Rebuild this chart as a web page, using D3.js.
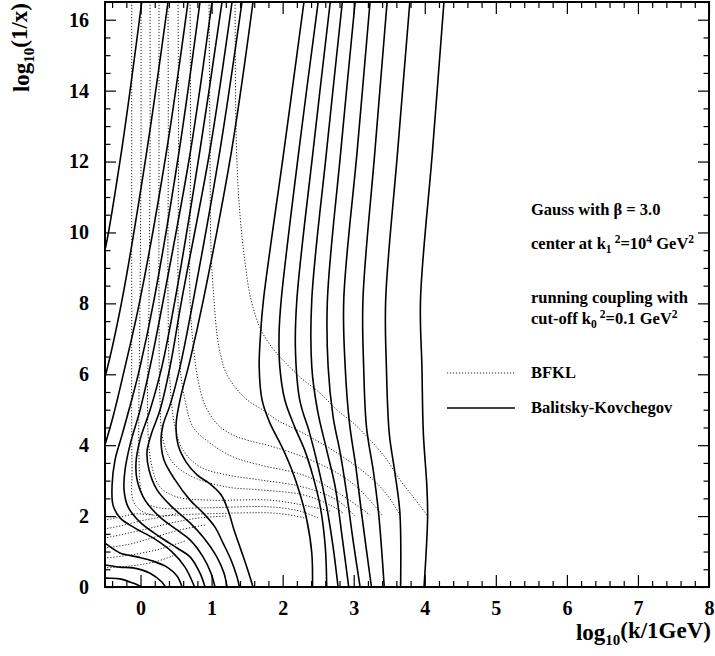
<!DOCTYPE html>
<html>
<head>
<meta charset="utf-8">
<script src="https://cdn.jsdelivr.net/npm/d3@7"></script>
<style>
  body { margin: 0; background: #fff; }
  svg { display: block; }
  text { font-family: "Liberation Serif", "Times New Roman", serif; font-weight: bold; fill: #000; }
</style>
</head>
<body>
<svg id="chart" width="715" height="656"></svg>
<script>
// ---- axes ----
const xDomain = [-0.5, 8];
const yDomain = [0, 16.5];
const xMajorTicks = [0, 1, 2, 3, 4, 5, 6, 7, 8];
const yMajorTicks = [0, 2, 4, 6, 8, 10, 12, 14, 16];

// ---- Balitsky-Kovchegov contours: [log10 k, log10 1/x] ----
// right branches (large k side of the Gaussian)
const bkRight1 = [[2.30,16.5],[2.02,12.33],[1.73,8.10],[1.69,7.17],[1.67,6.21],[1.71,5.28],[1.82,4.63],[1.99,3.95],[2.13,3.30],[2.24,2.65],[2.34,1.89],[2.41,0.96],[2.42,0]];
const bkRight2 = [[2.50,16.5],[2.23,12.33],[1.98,8.10],[1.95,7.17],[1.96,6.21],[2.03,5.28],[2.17,4.51],[2.31,3.86],[2.43,3.10],[2.53,2.26],[2.60,1.13],[2.62,0]];
const bkRight3 = [[2.67,16.5],[2.43,12.33],[2.20,8.10],[2.18,6.69],[2.24,5.28],[2.38,4.34],[2.50,3.39],[2.62,2.26],[2.71,1.13],[2.78,0]];
const bkRight4 = [[2.84,16.5],[2.62,12.33],[2.41,8.10],[2.41,6.21],[2.49,4.99],[2.62,3.86],[2.74,2.82],[2.83,1.52],[2.93,0]];
const bkRight5 = [[3.02,16.5],[2.82,12.33],[2.63,8.10],[2.64,6.21],[2.71,4.80],[2.81,3.78],[2.90,2.65],[2.99,1.33],[3.09,0]];
const bkRight6 = [[3.23,16.5],[3.05,12.33],[2.86,8.10],[2.88,6.21],[2.94,4.63],[3.03,3.39],[3.11,2.09],[3.25,0]];
const bkRight7 = [[3.47,16.5],[3.30,12.33],[3.13,8.10],[3.14,6.21],[3.18,4.51],[3.28,3.22],[3.35,2.09],[3.43,0]];
const bkRight8 = [[3.79,16.5],[3.62,12.33],[3.45,8.10],[3.46,6.21],[3.50,4.34],[3.58,3.22],[3.65,2.09],[3.66,0]];
const bkRight9 = [[4.27,16.5],[4.11,12.33],[3.94,8.10],[3.96,6.21],[3.98,4.34],[4.03,2.82],[4.04,1.97],[3.99,0]];

// left branches (small k side); the outer ones leave the frame and come back
const bkLeft1Top = [[0.017,16.5],[-0.265,12.33],[-0.5,9.51],[-0.55,9.2]];
const bkLeft1Low = [[-0.55,0.26],[-0.475,0.25],[-0.29,0.23],[-0.106,0.11],[0.017,0]];
const bkLeft2Top = [[0.387,16.5],[0.091,12.33],[-0.26,8.10],[-0.50,5.92],[-0.55,5.6]];
const bkLeft2Low = [[-0.55,0.63],[-0.5,0.62],[-0.29,0.56],[-0.106,0.54],[0.134,0.39],[0.30,0.14],[0.35,0]];
const bkLeft3Top = [[0.668,16.5],[0.369,12.33],[-0.007,8.10],[-0.218,6.21],[-0.387,4.80],[-0.5,4.01],[-0.55,3.7]];
const bkLeft3Low = [[-0.55,1.32],[-0.5,1.24],[-0.29,0.96],[-0.049,0.85],[0.176,0.73],[0.373,0.56],[0.514,0.31],[0.584,0]];
const bkLeft4 = [[0.837,16.5],[0.546,12.33],[0.19,8.10],[-0.007,6.21],[-0.124,5.28],[-0.26,4.29],[-0.359,3.58],[-0.40,2.88],[-0.387,2.31],[-0.288,1.95],[-0.077,1.66],[0.204,1.35],[0.443,0.99],[0.626,0.56],[0.76,0]];
const bkLeft5 = [[1.006,16.5],[0.706,12.33],[0.321,8.10],[0.134,6.21],[-0.007,4.99],[-0.148,4.01],[-0.218,3.30],[-0.232,2.74],[-0.176,2.26],[-0.007,1.83],[0.274,1.41],[0.514,1.10],[0.697,0.85],[0.837,0.39],[0.908,0]];
const bkLeft6 = [[1.147,16.5],[0.837,12.33],[0.486,8.10],[0.30,6.21],[0.134,4.99],[-0.007,4.15],[-0.063,3.53],[-0.049,3.02],[0.063,2.45],[0.274,1.97],[0.514,1.61],[0.697,1.33],[0.88,0.85],[0.992,0.39],[1.048,0]];
const bkLeft7 = [[1.288,16.5],[0.978,12.33],[0.58,8.10],[0.415,6.21],[0.274,4.99],[0.148,4.29],[0.091,3.81],[0.12,3.30],[0.232,2.74],[0.443,2.26],[0.697,1.81],[0.88,1.41],[1.073,0.85],[1.175,0.39],[1.217,0]];
const bkLeft8 = [[1.428,16.5],[1.119,12.33],[0.743,8.10],[0.556,6.21],[0.415,5.13],[0.317,4.57],[0.288,4.15],[0.33,3.58],[0.486,3.02],[0.697,2.45],[0.88,2.09],[1.048,1.69],[1.161,1.24],[1.274,0.76],[1.358,0.28],[1.393,0]];
const bkLeft9 = [[1.583,16.5],[1.283,12.33],[0.884,8.10],[0.697,6.40],[0.556,5.28],[0.50,4.57],[0.528,4.01],[0.64,3.53],[0.795,3.16],[0.978,2.91],[1.133,2.60],[1.231,2.17],[1.316,1.61],[1.414,1.04],[1.499,0.54],[1.583,0]];

// ---- BFKL contours ----
const bfkl1 = [[1.33,16.5],[1.351,12.33],[1.40,10.49],[1.47,9.17],[1.555,8.10],[1.682,7.31],[1.822,6.83],[1.963,6.49],[2.245,5.92],[2.526,5.47],[2.765,4.99],[2.99,4.63],[3.23,4.15],[3.448,3.64],[3.652,3.02],[3.849,2.51],[4.032,2.03]];
const bfkl2 = [[0.964,16.5],[0.978,12.33],[0.992,9.51],[1.034,8.10],[1.077,7.11],[1.133,6.49],[1.217,5.98],[1.47,5.33],[1.724,4.99],[1.921,4.71],[2.287,4.34],[2.765,3.78],[3.23,3.10],[3.469,2.60],[3.652,2.03]];
const bfkl3 = [[0.697,16.5],[0.704,12.33],[0.697,8.10],[0.739,6.88],[0.809,5.84],[0.908,5.13],[1.091,4.57],[1.33,4.26],[1.541,4.12],[1.822,3.98],[2.287,3.67],[2.765,3.22],[3.089,2.74],[3.399,2.03]];
const bfkl4 = [[0.528,16.5],[0.535,12.33],[0.528,8.10],[0.556,6.21],[0.626,5.28],[0.739,4.51],[0.978,4.06],[1.302,3.67],[1.682,3.44],[2.287,3.16],[2.765,2.68],[3.23,2.03]];
const bfkl5 = [[0.387,16.5],[0.391,12.33],[0.387,8.10],[0.415,5.75],[0.486,4.51],[0.598,3.86],[0.837,3.39],[1.217,3.16],[1.682,3.02],[2.287,2.82],[2.765,2.45],[3.019,2.00]];
const bfkl6 = [[0.26,16.5],[0.26,12.33],[0.26,8.10],[0.274,5.28],[0.317,4.15],[0.457,3.50],[0.739,3.10],[1.217,2.82],[1.682,2.74],[2.287,2.60],[2.667,2.31],[2.85,2.09]];
const bfkl7 = [[0.134,16.5],[0.134,12.33],[0.12,8.10],[0.106,4.34],[0.162,3.39],[0.274,2.82],[0.514,2.54],[0.978,2.45],[1.822,2.45],[2.287,2.31],[2.667,2.14]];
const bfkl8 = [[0.007,16.5],[0.007,12.33],[-0.007,8.10],[-0.021,3.58],[0.007,2.74],[0.091,2.37],[0.274,2.23],[0.837,2.23],[1.822,2.26],[2.245,2.14],[2.498,1.95]];
const bfkl9 = [[-0.124,16.5],[-0.124,12.33],[-0.124,8.10],[-0.12,3.39],[-0.106,2.45],[-0.007,2.17],[0.176,2.03],[0.837,2.06],[1.822,2.09],[2.104,2.03],[2.301,1.95]];
// small-k branches of the BFKL contours, leaving through the left edge
const bfklLow1 = [[-0.55,1.87],[-0.5,1.89],[-0.288,1.97],[-0.077,2.06],[0.176,2.03]];
const bfklLow2 = [[-0.55,1.62],[-0.5,1.64],[-0.288,1.72],[-0.007,1.86],[0.274,1.97],[0.556,2.09]];
const bfklLow3 = [[-0.55,1.36],[-0.5,1.38],[-0.218,1.50],[0.134,1.66],[0.486,1.83],[0.837,1.95],[1.203,2.00]];
const bfklLow4 = [[-0.55,1.08],[-0.5,1.10],[-0.148,1.21],[0.204,1.41],[0.556,1.61],[0.908,1.75]];
const bfklLow5 = [[-0.55,0.81],[-0.5,0.82],[-0.148,0.90],[0.274,1.07],[0.626,1.30]];
const bfklLow6 = [[-0.55,0.53],[-0.5,0.54],[-0.148,0.59],[0.204,0.71],[0.486,0.90]];

const bkCurves = [bkRight1, bkRight2, bkRight3, bkRight4, bkRight5, bkRight6, bkRight7, bkRight8, bkRight9,
  bkLeft1Top, bkLeft1Low, bkLeft2Top, bkLeft2Low, bkLeft3Top, bkLeft3Low,
  bkLeft4, bkLeft5, bkLeft6, bkLeft7, bkLeft8, bkLeft9];
const bfklCurves = [bfkl1, bfkl2, bfkl3, bfkl4, bfkl5, bfkl6, bfkl7, bfkl8, bfkl9,
  bfklLow1, bfklLow2, bfklLow3, bfklLow4, bfklLow5, bfklLow6];

// ---- layout ----
const plot = { left: 105, right: 709, top: 2, bottom: 587 };

const svg = d3.select("#chart");
const x = d3.scaleLinear().domain(xDomain).range([plot.left, plot.right]);
const y = d3.scaleLinear().domain(yDomain).range([plot.bottom, plot.top]);

const xMinor = d3.range(-0.4, 8.001, 0.2).map(v => +v.toFixed(2)).filter(v => Math.abs(v - Math.round(v)) > 1e-6);
const yMinor = d3.range(0.5, 16.501, 0.5).filter(v => v % 2 !== 0);

svg.append("defs").append("clipPath").attr("id", "plotClip")
  .append("rect")
  .attr("x", plot.left).attr("y", plot.top)
  .attr("width", plot.right - plot.left).attr("height", plot.bottom - plot.top);

const line = d3.line()
  .x(d => x(d[0])).y(d => y(d[1]))
  .curve(d3.curveCatmullRom.alpha(0.5));

const curves = svg.append("g").attr("clip-path", "url(#plotClip)");

curves.selectAll("path.bfkl").data(bfklCurves).join("path")
  .attr("class", "bfkl")
  .attr("d", line)
  .attr("fill", "none")
  .attr("stroke", "#222")
  .attr("stroke-width", 1)
  .attr("stroke-dasharray", "1.2,1.8");

curves.selectAll("path.bk").data(bkCurves).join("path")
  .attr("class", "bk")
  .attr("d", line)
  .attr("fill", "none")
  .attr("stroke", "#000")
  .attr("stroke-width", 1.6);

// ---- axes (ticks pointing into the frame) ----
function styleAxis(g) {
  g.select(".domain").remove();
  g.selectAll(".tick line").attr("stroke", "#000").attr("stroke-width", 1.2);
  g.selectAll("text").style("font-size", "20px").style("font-family", "'Liberation Serif', serif").style("font-weight", "bold");
}

svg.append("g").attr("transform", `translate(0,${plot.bottom})`)
  .call(d3.axisBottom(x).tickValues(xMajorTicks).tickSize(-12).tickPadding(14).tickFormat(d3.format("d")))
  .call(styleAxis);
svg.append("g").attr("transform", `translate(0,${plot.bottom})`)
  .call(d3.axisBottom(x).tickValues(xMinor).tickSize(-6).tickFormat(""))
  .call(styleAxis);
svg.append("g").attr("transform", `translate(0,${plot.top})`)
  .call(d3.axisTop(x).tickValues(xMajorTicks).tickSize(-12).tickFormat(""))
  .call(styleAxis);
svg.append("g").attr("transform", `translate(0,${plot.top})`)
  .call(d3.axisTop(x).tickValues(xMinor).tickSize(-6).tickFormat(""))
  .call(styleAxis);

svg.append("g").attr("transform", `translate(${plot.left},0)`)
  .call(d3.axisLeft(y).tickValues(yMajorTicks).tickSize(-11).tickPadding(16).tickFormat(d3.format("d")))
  .call(styleAxis);
svg.append("g").attr("transform", `translate(${plot.left},0)`)
  .call(d3.axisLeft(y).tickValues(yMinor).tickSize(-5.5).tickFormat(""))
  .call(styleAxis);
svg.append("g").attr("transform", `translate(${plot.right},0)`)
  .call(d3.axisRight(y).tickValues(yMajorTicks).tickSize(-11).tickFormat(""))
  .call(styleAxis);
svg.append("g").attr("transform", `translate(${plot.right},0)`)
  .call(d3.axisRight(y).tickValues(yMinor).tickSize(-5.5).tickFormat(""))
  .call(styleAxis);

svg.append("rect")
  .attr("x", plot.left).attr("y", plot.top)
  .attr("width", plot.right - plot.left).attr("height", plot.bottom - plot.top)
  .attr("fill", "none").attr("stroke", "#000").attr("stroke-width", 2);

// ---- axis titles ----
const xTitle = svg.append("text")
  .attr("x", 711).attr("y", 640)
  .attr("text-anchor", "end")
  .style("font-size", "23px");
xTitle.append("tspan").text("log");
xTitle.append("tspan").attr("dy", "0.3em").style("font-size", "15px").text("10");
xTitle.append("tspan").attr("dy", "-0.3em").text("(k/1GeV)");

const yTitle = svg.append("text")
  .attr("transform", "translate(29,3) rotate(-90)")
  .attr("text-anchor", "end")
  .style("font-size", "23px");
yTitle.append("tspan").text("log");
yTitle.append("tspan").attr("dy", "0.3em").style("font-size", "15px").text("10");
yTitle.append("tspan").attr("dy", "-0.3em").text("(1/x)");

// ---- annotation block and legend ----
const noteX = 531;
const fs = 16.5;
function note(yPos, parts) {
  const t = svg.append("text").attr("x", noteX).attr("y", yPos).style("font-size", fs + "px");
  parts.forEach(p => {
    const s = t.append("tspan").text(p.t);
    if (p.small) s.style("font-size", (fs * 0.7) + "px");
    if (p.dy) s.attr("dy", p.dy);
    if (p.dx) s.attr("dx", p.dx);
  });
}
note(215, [{ t: "Gauss with \u03B2 = 3.0" }]);
note(249, [{ t: "center at k" }, { t: "1", small: true, dy: 4 }, { t: "2", small: true, dy: -10, dx: 3 }, { t: "=10", dy: 6 },
  { t: "4", small: true, dy: -6 }, { t: " GeV", dy: 6 }, { t: "2", small: true, dy: -6 }]);
note(303, [{ t: "running coupling with" }]);
note(324, [{ t: "cut-off k" }, { t: "0", small: true, dy: 4 }, { t: "2", small: true, dy: -10, dx: 3 }, { t: "=0.1 GeV", dy: 6 },
  { t: "2", small: true, dy: -6 }]);

const legend = [
  { label: "BFKL", y: 378, dash: "1.2,1.8", width: 1, color: "#222" },
  { label: "Balitsky-Kovchegov", y: 413, dash: null, width: 1.6, color: "#000" }
];
legend.forEach(l => {
  svg.append("line")
    .attr("x1", 447).attr("x2", 515).attr("y1", l.y - 5).attr("y2", l.y - 5)
    .attr("stroke", l.color).attr("stroke-width", l.width)
    .attr("stroke-dasharray", l.dash);
  svg.append("text").attr("x", noteX).attr("y", l.y).style("font-size", fs + "px").text(l.label);
});
</script>
</body>
</html>
